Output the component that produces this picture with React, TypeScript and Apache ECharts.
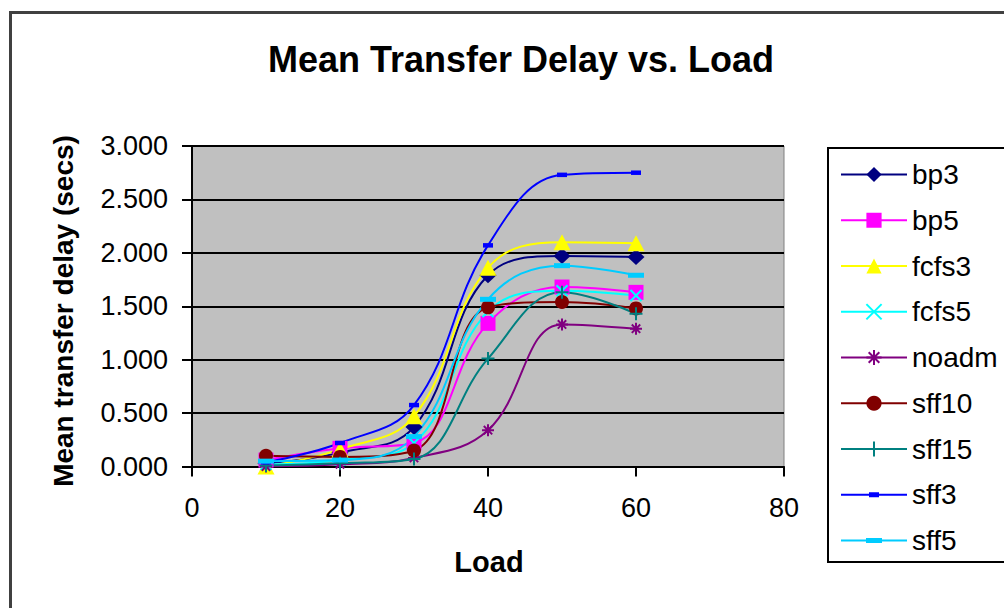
import React, { useEffect, useRef } from "react";
import * as echarts from "echarts";

const loads = [10, 20, 30, 40, 50, 60];
const bp3 = [0.03, 0.13, 0.37, 1.79, 1.97, 1.96];
const bp5 = [0.06, 0.17, 0.22, 1.34, 1.68, 1.63];
const fcfs3 = [0.0, 0.16, 0.47, 1.86, 2.1, 2.09];
const fcfs5 = [0.02, 0.06, 0.22, 1.45, 1.645, 1.6];
const noadm = [0.0, 0.02, 0.08, 0.34, 1.33, 1.29];
const sff10 = [0.1, 0.09, 0.15, 1.49, 1.54, 1.48];
const sff15 = [0.01, 0.03, 0.07, 1.01, 1.63, 1.43];
const sff3 = [0.04, 0.22, 0.575, 2.07, 2.73, 2.75];
const sff5 = [0.05, 0.06, 0.28, 1.565, 1.88, 1.79];

const xTicks = [0, 20, 40, 60, 80];
const yTicks = [0, 0.5, 1, 1.5, 2, 2.5, 3];

const FONT = "Liberation Sans";

const X_PATH = "path://M0,0L10,10M10,0L0,10";
const STAR_PATH = "path://M5,0L5,10M0,5L10,5M1.5,1.5L8.5,8.5M8.5,1.5L1.5,8.5";
const PLUS_PATH = "path://M5,0L5,10M0,5L10,5";
const SHORT_DASH = "path://M0,0L10,0L10,4.5L0,4.5Z";
const LONG_DASH = "path://M0,0L16,0L16,5L0,5Z";
const LEGEND_SHORT = "path://M0,1.5L28,1.5L28,0L38,0L38,1.5L66,1.5L66,3.5L38,3.5L38,5L28,5L28,3.5L0,3.5Z";
const LEGEND_LONG = "path://M0,1.5L25,1.5L25,0L41,0L41,1.5L66,1.5L66,3.5L41,3.5L41,5L25,5L25,3.5L0,3.5Z";

type Spec = {
  name: string;
  data: number[];
  color: string;
  symbol: string;
  size: number | number[];
  stroke?: boolean;
  legendIcon?: string;
};

const specs: Spec[] = [
  { name: "bp3", data: bp3, color: "#000080", symbol: "diamond", size: [17, 16] },
  { name: "bp5", data: bp5, color: "#FF00FF", symbol: "rect", size: 15 },
  { name: "fcfs3", data: fcfs3, color: "#FFFF00", symbol: "triangle", size: [17, 16] },
  { name: "fcfs5", data: fcfs5, color: "#00FFFF", symbol: X_PATH, size: 11, stroke: true },
  { name: "noadm", data: noadm, color: "#800080", symbol: STAR_PATH, size: 12, stroke: true },
  { name: "sff10", data: sff10, color: "#800000", symbol: "circle", size: 14 },
  { name: "sff15", data: sff15, color: "#008080", symbol: PLUS_PATH, size: 13, stroke: true },
  { name: "sff3", data: sff3, color: "#0000FF", symbol: SHORT_DASH, size: 10, legendIcon: LEGEND_SHORT },
  { name: "sff5", data: sff5, color: "#00CCFF", symbol: LONG_DASH, size: 16, legendIcon: LEGEND_LONG },
];

export default function App() {
  const ref = useRef<HTMLDivElement>(null);
  useEffect(() => {
    if (!ref.current) return;
    const chart = echarts.init(ref.current, undefined, { renderer: "svg" });
    const series = specs.map((s) => ({
      name: s.name,
      type: "line",
      smooth: 0.4,
      data: loads.map((x, i) => [x, s.data[i]]),
      symbol: s.symbol,
      symbolSize: s.size,
      symbolKeepAspect: true,
      showAllSymbol: true,
      lineStyle: { color: s.color, width: 2 },
      itemStyle: s.stroke
        ? { color: s.color, borderColor: s.color, borderWidth: 2 }
        : { color: s.color, borderWidth: 0 },
      emphasis: { disabled: true },
      z: 3,
    }));
    chart.setOption({
      animation: false,
      backgroundColor: "#ffffff",
      textStyle: { fontFamily: FONT },
      title: {
        text: "Mean Transfer Delay vs. Load",
        left: 516,
        top: 36,
        textAlign: "center",
        textStyle: { fontFamily: FONT, fontWeight: "bold", fontSize: 36, color: "#000" },
      },
      grid: { left: 192, top: 146, width: 592, height: 320.5, show: true, backgroundColor: "#C0C0C0", borderColor: "#808080", borderWidth: 1 },
      xAxis: {
        type: "value",
        min: xTicks[0],
        max: xTicks[xTicks.length - 1],
        interval: 20,
        axisLine: { show: true, onZero: false, lineStyle: { color: "#000", width: 2 } },
        axisTick: { show: true, length: 10, lineStyle: { color: "#000", width: 2 } },
        axisLabel: { margin: 28, fontFamily: FONT, fontSize: 27, color: "#000" },
        splitLine: { show: false },
      },
      yAxis: {
        type: "value",
        min: yTicks[0],
        max: yTicks[yTicks.length - 1],
        interval: 0.5,
        axisLine: { show: true, lineStyle: { color: "#000", width: 2 } },
        axisTick: { show: true, length: 10, lineStyle: { color: "#000", width: 2 } },
        axisLabel: { margin: 24, fontFamily: FONT, fontSize: 27, color: "#000", formatter: (v: number) => v.toFixed(3) },
        splitLine: { show: true, lineStyle: { color: "#000", width: 2 } },
      },
      legend: {
        orient: "vertical",
        left: 840,
        top: 159,
        padding: 0,
        itemWidth: 66,
        itemHeight: 19,
        itemGap: 14.75,
        selectedMode: false,
        symbolKeepAspect: true,
        z: 10,
        textStyle: { fontFamily: FONT, fontSize: 28, color: "#000", lineHeight: 31 },
        data: specs.map((s) =>
          s.legendIcon
            ? { name: s.name, icon: s.legendIcon, itemStyle: { color: s.color, borderWidth: 0 } }
            : { name: s.name }
        ),
      },
      graphic: [
        {
          type: "rect",
          z: -1,
          shape: { x: 10.5, y: 12.5, width: 1100, height: 700 },
          style: { fill: "none", stroke: "#404040", lineWidth: 3 },
        },
        {
          type: "rect",
          z: 1,
          shape: { x: 828, y: 148, width: 200, height: 414 },
          style: { fill: "#ffffff", stroke: "#000000", lineWidth: 2 },
        },
        {
          type: "text",
          x: 63,
          y: 311,
          rotation: Math.PI / 2,
          style: { text: "Mean transfer delay (secs)", align: "center", verticalAlign: "middle", fontFamily: FONT, fontWeight: "bold", fontSize: 28, fill: "#000" },
        },
        {
          type: "text",
          x: 489,
          y: 562,
          style: { text: "Load", align: "center", verticalAlign: "middle", fontFamily: FONT, fontWeight: "bold", fontSize: 29, fill: "#000" },
        },
      ],
      series,
    });
    return () => chart.dispose();
  }, []);
  return <div ref={ref} style={{ width: 1004, height: 608, position: "absolute", left: 0, top: 0 }} />;
}
